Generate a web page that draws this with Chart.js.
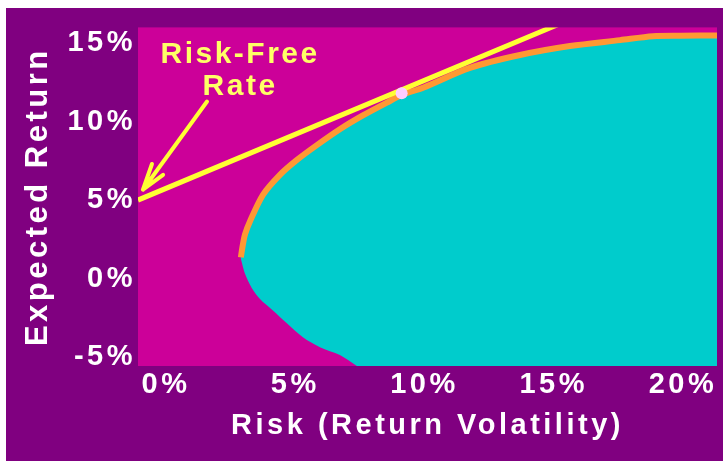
<!DOCTYPE html>
<html><head><meta charset="utf-8">
<script src="https://cdn.jsdelivr.net/npm/chart.js@4"></script>
<style>
html,body{margin:0;padding:0;background:#fff;}
#wrap{position:absolute;left:6px;top:8px;width:717px;height:453px;background:#800080;}
</style></head><body>
<div id="wrap"><canvas id="c"></canvas></div>
<script>
// ---- data (percent) ----
const riskTicks = [0, 5, 10, 15, 20];
const returnTicks = [-5, 0, 5, 10, 15];
// inefficient (lower) branch of the feasible set, from bottom edge up to the minimum-variance vertex
const frontierLowerRisk   = [8.47, 7.81, 7.04, 6.38, 5.76, 5.22, 4.72, 4.40, 4.14, 4.02];
const frontierLowerReturn = [-5.57, -4.87, -4.37, -3.74, -2.85, -2.03, -1.30, -0.60, 0.30, 1.00];
// efficient frontier (upper branch), from the vertex to the right edge
const frontierUpperRisk   = [3.98, 4.05, 4.14, 4.33, 4.84, 5.49, 6.15, 6.92, 7.81, 8.70, 9.63, 10.25, 11.03, 12.84, 14.78, 16.71, 18.65, 19.92, 21.0, 22.4];
const frontierUpperReturn = [1.35, 2.10, 2.82, 3.64, 5.35, 6.61, 7.56, 8.50, 9.51, 10.39, 11.21, 11.72, 12.16, 13.42, 14.24, 14.81, 15.19, 15.44, 15.47, 15.48];
// capital market line from the risk-free rate
const cmlRisk   = [0, 17];
const cmlReturn = [5, 16.7];
// tangency portfolio
const tangencyRisk   = [10.2];
const tangencyReturn = [11.8];

const X_MIN = 0, X_MAX = 22.4, Y_MIN = -5.57, Y_MAX = 16.0;

const annotation = {
  lines: ['Risk-Free', 'Rate'],
  textAt: {x: 3.95, y: 13.74},
  lineGap: 32,
  arrowFrom: {x: 2.67, y: 11.28},
  arrowTip: {x: 0.19, y: 5.66},
  barbA: {x: 0.54, y: 7.30},
  barbB: {x: 0.97, y: 6.61}
};

const pts = (xs, ys) => xs.map((x, i) => ({x, y: ys[i]}));
const upper = pts(frontierUpperRisk, frontierUpperReturn);
const lower = pts(frontierLowerRisk, frontierLowerReturn);
const feasible = [
  {x: X_MAX + 3, y: Y_MIN - 3},
  {x: frontierLowerRisk[0] + 1.5, y: Y_MIN - 1.5},
  ...lower,
  ...upper,
  {x: X_MAX + 3, y: frontierUpperReturn[frontierUpperReturn.length - 1]}
];

const FONT = 'Liberation Sans';
const SPACING = '3.5px';

const stylePlugin = {
  id: 'stylePlugin',
  beforeLayout(c) { c.ctx.letterSpacing = SPACING; },
  beforeDraw(c) {
    const {ctx, chartArea: a} = c;
    ctx.letterSpacing = SPACING;
    ctx.save();
    ctx.fillStyle = '#cc0099';
    ctx.fillRect(a.left, a.top, a.width, a.height);
    ctx.restore();
  }
};

const annotationPlugin = {
  id: 'annotationPlugin',
  afterDatasetsDraw(c) {
    const {ctx, scales: {x, y}} = c;
    const P = p => [x.getPixelForValue(p.x), y.getPixelForValue(p.y)];
    const a = annotation;
    ctx.save();
    ctx.strokeStyle = '#ffff33';
    ctx.lineWidth = 4;
    ctx.lineCap = 'round';
    ctx.lineJoin = 'round';
    ctx.beginPath();
    ctx.moveTo(...P(a.arrowFrom));
    ctx.lineTo(...P(a.arrowTip));
    ctx.moveTo(...P(a.barbA));
    ctx.lineTo(...P(a.arrowTip));
    ctx.lineTo(...P(a.barbB));
    ctx.stroke();
    ctx.fillStyle = '#ffff66';
    ctx.font = 'bold 30px "' + FONT + '"';
    ctx.letterSpacing = '2.5px';
    ctx.textAlign = 'center';
    ctx.textBaseline = 'alphabetic';
    const [tx, ty] = P(a.textAt);
    a.lines.forEach((t, i) => ctx.fillText(t, tx, ty + i * a.lineGap));
    ctx.restore();
  }
};

new Chart(document.getElementById('c'), {
  type: 'line',
  data: {
    datasets: [
      {label: 'Tangency portfolio', data: pts(tangencyRisk, tangencyReturn), showLine: false,
       pointRadius: 6, pointBackgroundColor: '#ffccff', pointBorderWidth: 0, clip: 0},
      {label: 'Capital market line', data: pts(cmlRisk, cmlReturn), borderColor: '#ffff33',
       borderWidth: 5, pointRadius: 0, fill: false, clip: 0},
      {label: 'Efficient frontier', data: upper, borderColor: '#ff9933', borderWidth: 6,
       pointRadius: 0, tension: 0.3, fill: false, clip: 0},
      {label: 'Feasible set', data: feasible, borderWidth: 0, borderColor: 'rgba(0,0,0,0)',
       backgroundColor: '#00cccc', pointRadius: 0, tension: 0.3, fill: 'shape', clip: 0}
    ]
  },
  options: {
    responsive: true,
    maintainAspectRatio: false,
    animation: false,
    events: [],
    layout: {padding: {top: 16, right: 6, left: 0, bottom: 0}},
    plugins: {legend: {display: false}, tooltip: {enabled: false}},
    scales: {
      x: {
        type: 'linear', min: X_MIN, max: X_MAX,
        afterBuildTicks(s) { s.ticks = riskTicks.map(v => ({value: v})); },
        afterFit(s) { s.height = 95; },
        grid: {display: false, drawTicks: false},
        border: {display: false},
        ticks: {color: '#ffffff', font: {family: FONT, size: 29, weight: 'bold'}, padding: 2,
                labelOffset: 28, maxRotation: 0, autoSkip: false, callback: v => v + '%'},
        title: {display: true, text: 'Risk (Return Volatility)', color: '#ffffff',
                font: {family: FONT, size: 29, weight: 'bold'}, padding: {top: 0, bottom: 18}}
      },
      y: {
        type: 'linear', min: Y_MIN, max: Y_MAX,
        afterBuildTicks(s) { s.ticks = returnTicks.map(v => ({value: v})); },
        afterFit(s) { s.width = 132; },
        grid: {display: false, drawTicks: false},
        border: {display: false},
        ticks: {color: '#ffffff', font: {family: FONT, size: 29, weight: 'bold'}, padding: 2,
                autoSkip: false, callback: v => v + '%'},
        title: {display: true, text: 'Expected Return', color: '#ffffff',
                font: {family: FONT, size: 31, weight: 'bold'}, padding: {top: 14, bottom: 0}}
      }
    }
  },
  plugins: [stylePlugin, annotationPlugin]
});
</script>
</body></html>
